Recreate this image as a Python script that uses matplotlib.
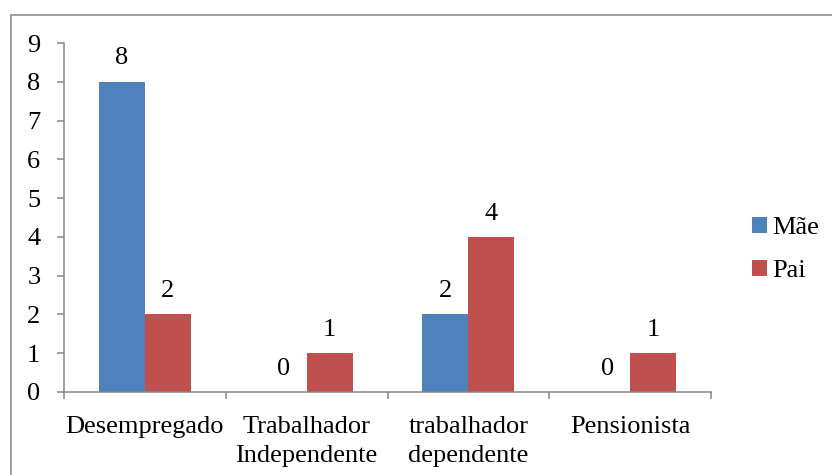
import matplotlib
matplotlib.use("Agg")
import matplotlib.pyplot as plt
import numpy as np
from matplotlib.patches import Rectangle

categories = ["Desempregado", "Trabalhador\nIndependente", "trabalhador\ndependente", "Pensionista"]
mae = [8, 0, 2, 0]
pai = [2, 1, 4, 1]
series_names = ["Mãe", "Pai"]
yticks = list(range(0, 10))

BLUE = "#4F81BD"
RED = "#C0504D"
GRAY = "#868686"
FS = 19

plt.rcParams["font.family"] = ["Liberation Serif", "DejaVu Serif"]

fig = plt.figure(figsize=(8.32, 4.75), dpi=100)
ax = fig.add_axes([64 / 832, 83 / 475, 647 / 832, 349 / 475])

# outer chart border (cut off at the right and bottom of the picture)
fig.patches.append(Rectangle((11 / 832, -0.1), 1.2, 1 - 15 / 475 + 0.1,
                             transform=fig.transFigure, fill=False,
                             edgecolor=GRAY, linewidth=1.1))

x = np.arange(len(categories))
w = 0.284
b1 = ax.bar(x - w / 2, mae, w, color=BLUE, label=series_names[0])
b2 = ax.bar(x + w / 2, pai, w, color=RED, label=series_names[1])

for bars in (b1, b2):
    for rect in bars:
        h = rect.get_height()
        ax.annotate(f"{h:g}", (rect.get_x() + rect.get_width() / 2, h),
                    xytext=(0, 12.5), textcoords="offset points",
                    ha="center", va="baseline", fontsize=FS)

ax.set_xlim(-0.5, len(categories) - 0.5)
ax.set_ylim(0, 9)
ax.set_yticks(yticks)
ax.set_xticks(x)
ax.set_xticklabels(categories, fontsize=FS, linespacing=1.45)
ax.set_xticks(np.arange(len(categories) + 1) - 0.5, minor=True)
ax.tick_params(axis="x", which="major", length=0, pad=17)
ax.tick_params(axis="x", which="minor", length=5, color=GRAY, width=1.1, direction="out")
ax.tick_params(axis="y", length=5, color=GRAY, width=1.1, direction="out", pad=12, labelsize=FS)

for s in ("top", "right"):
    ax.spines[s].set_visible(False)
for s in ("left", "bottom"):
    ax.spines[s].set_color(GRAY)
    ax.spines[s].set_linewidth(1.1)

fig.legend(handles=[b1, b2], labels=series_names, loc="center left",
           bbox_to_anchor=(752 / 832, 1 - 249.5 / 475), frameon=False,
           fontsize=FS, handlelength=0.56, handleheight=0.56,
           handletextpad=0.2, labelspacing=0.8, borderpad=0, borderaxespad=0)

fig.savefig("out.png", dpi=100)
